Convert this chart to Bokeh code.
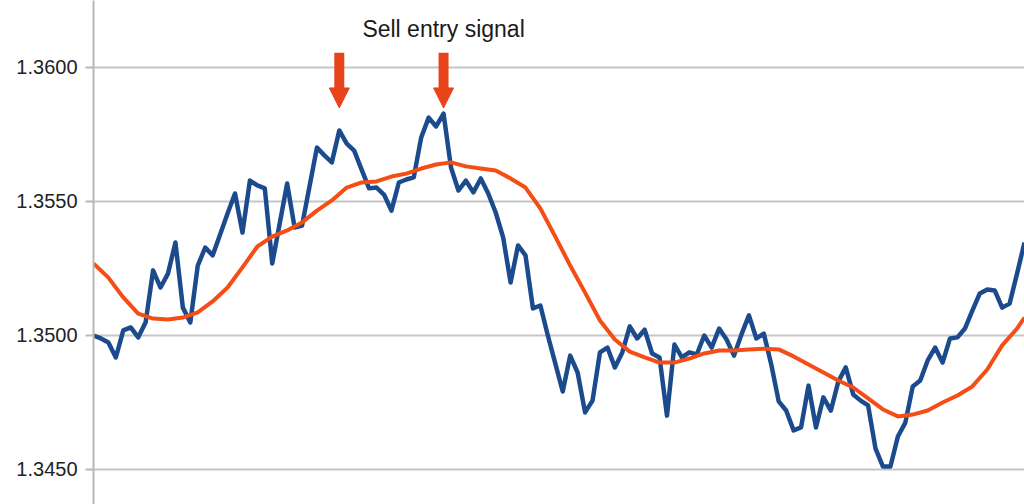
from bokeh.plotting import figure
from bokeh.models import Range1d, FixedTicker, NumeralTickFormatter, Arrow, NormalHead, Label
from bokeh.embed import file_html
from bokeh.resources import INLINE

# Price (blue) by bar index
price_idx = list(range(126))
price = [
    1.35000, 1.34989, 1.34974, 1.34918, 1.35019, 1.35030, 1.34993, 1.35049, 1.35243, 1.35179,
    1.35231, 1.35347, 1.35104, 1.35049, 1.35261, 1.35328, 1.35299, 1.35377, 1.35455, 1.35530,
    1.35384, 1.35578, 1.35560, 1.35549, 1.35269, 1.35418, 1.35567, 1.35403, 1.35410, 1.35556,
    1.35701, 1.35672, 1.35646, 1.35765, 1.35716, 1.35690, 1.35619, 1.35549, 1.35552, 1.35526,
    1.35466, 1.35571, 1.35582, 1.35590, 1.35739, 1.35813, 1.35780, 1.35828, 1.35627, 1.35541,
    1.35578, 1.35534, 1.35586, 1.35530, 1.35459, 1.35366, 1.35198, 1.35336, 1.35299, 1.35101,
    1.35112, 1.35000, 1.34896, 1.34791, 1.34925, 1.34862, 1.34713, 1.34757, 1.34937, 1.34955,
    1.34881, 1.34937, 1.35034, 1.34989, 1.35022, 1.34933, 1.34918, 1.34701, 1.34966, 1.34918,
    1.34937, 1.34929, 1.35000, 1.34955, 1.35026, 1.34985, 1.34925, 1.35004, 1.35075, 1.34989,
    1.35007, 1.34892, 1.34754, 1.34720, 1.34646, 1.34657, 1.34813, 1.34657, 1.34769, 1.34720,
    1.34828, 1.34881, 1.34780, 1.34757, 1.34739, 1.34578, 1.34511, 1.34511, 1.34623, 1.34675,
    1.34810, 1.34832, 1.34907, 1.34955, 1.34899, 1.34989, 1.34993, 1.35026, 1.35093, 1.35157,
    1.35172, 1.35168, 1.35104, 1.35119, 1.35231, 1.35347,
]

# Moving average (orange)
ma_idx = list(range(0, 125, 2)) + [125]
ma = [
    1.35269, 1.35216, 1.35142, 1.35082, 1.35063, 1.35060, 1.35067, 1.35086, 1.35127, 1.35179,
    1.35254, 1.35332, 1.35369, 1.35392, 1.35422, 1.35466, 1.35504, 1.35552, 1.35571, 1.35575,
    1.35593, 1.35604, 1.35623, 1.35638, 1.35646, 1.35631, 1.35623, 1.35616, 1.35586, 1.35552,
    1.35474, 1.35369, 1.35261, 1.35160, 1.35056, 1.34985, 1.34940, 1.34918, 1.34899, 1.34899,
    1.34914, 1.34933, 1.34944, 1.34944, 1.34948, 1.34951, 1.34948, 1.34922, 1.34892, 1.34862,
    1.34832, 1.34806, 1.34765, 1.34724, 1.34698, 1.34705, 1.34720, 1.34750, 1.34776, 1.34810,
    1.34873, 1.34963, 1.35026, 1.35067,
]

y_ticks = [1.3450, 1.3500, 1.3550, 1.3600]
signal_idx = [33, 47]
signal_text = "Sell entry signal"

BLUE = "#1c4b8d"
ORANGE = "#f44d16"
ARROW = "#e8431b"
GRID = "#c6c6c6"

p = figure(width=1024, height=504, output_backend="svg", toolbar_location=None,
           x_range=Range1d(0, 125.0), y_range=Range1d(1.343694, 1.362500),
           x_axis_location=None,
           min_border_left=93, min_border_right=0, min_border_top=0, min_border_bottom=0)
p.outline_line_color = None
p.background_fill_color = "white"
p.border_fill_color = "white"
p.xgrid.visible = False
p.ygrid.grid_line_color = GRID
p.ygrid.grid_line_width = 2

ax = p.yaxis[0]
ax.ticker = FixedTicker(ticks=y_ticks)
ax.formatter = NumeralTickFormatter(format="0.0000")
ax.major_label_text_font = "Liberation Sans"
ax.major_label_text_font_size = "20px"
ax.major_label_text_color = "#222222"
ax.major_label_standoff = 8
ax.major_tick_out = 8
ax.major_tick_in = 0
ax.minor_tick_out = 0
ax.minor_tick_in = 0
ax.major_tick_line_color = "#b8b8b8"
ax.major_tick_line_width = 2
ax.axis_line_color = "#b8b8b8"
ax.axis_line_width = 2

p.line(price_idx, price, line_color=BLUE, line_width=4.5, line_join="round")
p.line(ma_idx, ma, line_color=ORANGE, line_width=4, line_join="round")

arrow_top = 1.36055
arrow_tip = 1.35849
for i in signal_idx:
    p.add_layout(Arrow(end=NormalHead(size=20, fill_color=ARROW, line_color=ARROW, line_width=1),
                       x_start=i, y_start=arrow_top, x_end=i, y_end=arrow_tip,
                       line_color=ARROW, line_width=10))

p.add_layout(Label(x=signal_idx[-1], y=1.36142, text=signal_text, text_align="center",
                   text_baseline="middle", text_font="Liberation Sans",
                   text_font_size="23px", text_color="#1a1a1a"))

open("out.html", "w").write(file_html(p, INLINE))
